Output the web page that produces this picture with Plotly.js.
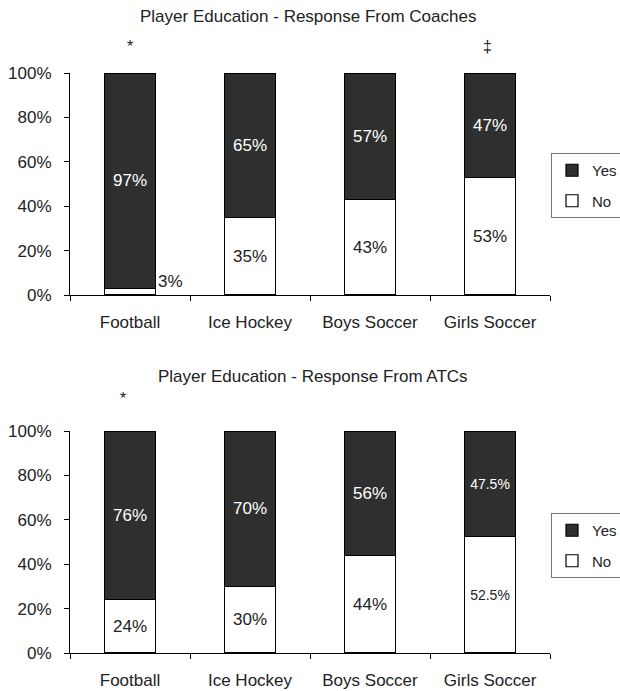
<!DOCTYPE html>
<html>
<head>
<meta charset="utf-8">
<script src="https://cdn.plot.ly/plotly-3.0.1.min.js"></script>
<style>html,body{margin:0;padding:0;background:#fff;}#chart{width:620px;height:691px;}</style>
</head>
<body>
<div id="chart"></div>
<script>
// ---- data ----
var categories = ['Football', 'Ice Hockey', 'Boys Soccer', 'Girls Soccer'];
var coachesNo = [3, 35, 43, 53];
var coachesYes = [97, 65, 57, 47];
var atcNo = [24, 30, 44, 52.5];
var atcYes = [76, 70, 56, 47.5];
var coachesMarks = ['*', '', '', '\u2021'];
var atcMarks = ['*', '', '', ''];
var titleCoaches = 'Player Education - Response From Coaches';
var titleATC = 'Player Education - Response From ATCs';
var seriesNames = ['No', 'Yes'];

var FONT = 'Liberation Sans, Arial, sans-serif';
var DARK = '#2f2f2f';
var INK = '#222';
var FS = 17;

function pct(v) { return v + '%'; }
function fsize(v) { return (v % 1 !== 0) ? 14 : FS; }

function makeTraces(noVals, yesVals, xa, ya, legendId) {
  var small = function (v) { return v < 10; };
  var noTrace = {
    type: 'bar', name: seriesNames[0], x: categories, y: noVals.map(function (v) { return v / 100; }),
    xaxis: xa, yaxis: ya, legend: legendId, legendgroup: legendId + 'no', legendrank: 2,
    marker: { color: '#ffffff', line: { color: '#000', width: 1.2 } },
    text: noVals.map(function (v) { return small(v) ? '' : pct(v); }),
    textposition: 'inside', insidetextanchor: 'middle',
    textfont: { family: FONT, color: INK, size: noVals.map(fsize) },
    hoverinfo: 'none'
  };
  var yesTrace = {
    type: 'bar', name: seriesNames[1], x: categories, y: yesVals.map(function (v) { return v / 100; }),
    xaxis: xa, yaxis: ya, legend: legendId, legendgroup: legendId + 'yes', legendrank: 1,
    marker: { color: DARK, line: { color: '#000', width: 1.2 } },
    text: yesVals.map(function (v) { return small(v) ? '' : pct(v); }),
    textposition: 'inside', insidetextanchor: 'middle',
    textfont: { family: FONT, color: '#ffffff', size: yesVals.map(fsize) },
    hoverinfo: 'none'
  };
  return [noTrace, yesTrace];
}

var data = [].concat(
  makeTraces(coachesNo, coachesYes, 'x', 'y', 'legend'),
  makeTraces(atcNo, atcYes, 'x2', 'y2', 'legend2')
);

var annotations = [];
function addAnnots(noVals, marks, xa, ya, markY, markShift) {
  noVals.forEach(function (v, i) {
    if (v < 10) {
      annotations.push({ x: categories[i], y: v / 100, xref: xa, yref: ya, text: pct(v), showarrow: false,
        xanchor: 'left', yanchor: 'middle', xshift: 26, yshift: 7, font: { family: FONT, size: FS, color: INK } });
    }
  });
  marks.forEach(function (m, i) {
    if (m) {
      annotations.push({ x: categories[i], y: markY, xref: xa, yref: ya + ' domain', text: m, showarrow: false,
        yanchor: 'middle', xshift: (i === 0 ? markShift : -3), font: { family: FONT, size: 16, color: INK } });
    }
  });
}
addAnnots(coachesNo, coachesMarks, 'x', 'y', 1.12, 0);
addAnnots(atcNo, atcMarks, 'x2', 'y2', 1.145, -7);

annotations.push({ x: 308 / 620, y: 1 - 17 / 691, xref: 'paper', yref: 'paper', text: titleCoaches, showarrow: false,
  yanchor: 'middle', font: { family: FONT, size: FS, color: INK } });
annotations.push({ x: 313 / 620, y: 1 - 377 / 691, xref: 'paper', yref: 'paper', text: titleATC, showarrow: false,
  yanchor: 'middle', font: { family: FONT, size: FS, color: INK } });

function yAxis(domain, anchor) {
  return {
    domain: domain, anchor: anchor, range: [0, 1], dtick: 0.2, tick0: 0, tickformat: '.0%',
    showline: true, linecolor: '#000', linewidth: 1, ticks: 'outside', ticklen: 5, tickcolor: '#000',
    showgrid: false, zeroline: false, fixedrange: true, ticklabelstandoff: 9,
    tickfont: { family: FONT, size: FS, color: INK }
  };
}
function xAxis(anchor) {
  return {
    domain: [70 / 620, 550 / 620], anchor: anchor, type: 'category',
    showline: true, linecolor: '#000', linewidth: 1, ticks: 'outside', ticklen: 5, tickcolor: '#000',
    tickson: 'boundaries', showgrid: false, zeroline: false, fixedrange: true, ticklabelstandoff: 12,
    tickfont: { family: FONT, size: FS, color: INK }
  };
}

var legendBase = {
  x: 551 / 620, xanchor: 'left', yanchor: 'top', bgcolor: '#fff', bordercolor: '#777', borderwidth: 1,
  traceorder: 'grouped', font: { family: FONT, size: 15, color: INK }, tracegroupgap: 8
};
var legend1 = Object.assign({}, legendBase, { y: 1 - 153 / 691 });
var legend2 = Object.assign({}, legendBase, { y: 1 - 513 / 691 });

var layout = {
  width: 620, height: 691, margin: { l: 0, r: 0, t: 0, b: 0, autoexpand: false },
  paper_bgcolor: '#fff', plot_bgcolor: 'rgba(0,0,0,0)',
  barmode: 'stack', bargap: 0.58,
  showlegend: true,
  xaxis: xAxis('y'), yaxis: yAxis([1 - 295 / 691, 1 - 73 / 691], 'x'),
  xaxis2: xAxis('y2'), yaxis2: yAxis([1 - 653 / 691, 1 - 431 / 691], 'x2'),
  legend: legend1, legend2: legend2,
  annotations: annotations,
  font: { family: FONT, color: INK }
};

Plotly.newPlot('chart', data, layout, { displayModeBar: false, staticPlot: true });
</script>
</body>
</html>
